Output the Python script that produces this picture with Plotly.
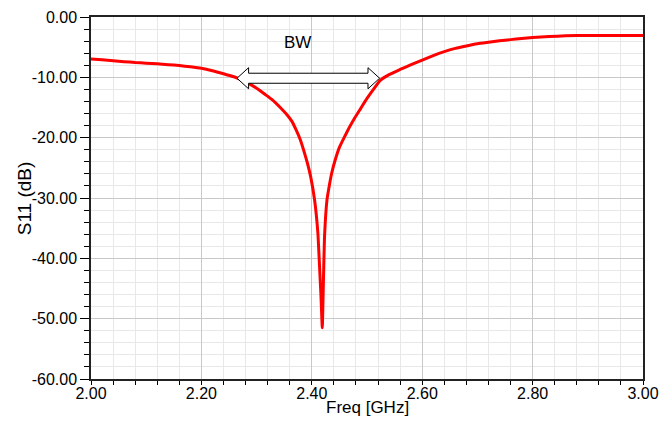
import plotly.graph_objects as go

freq_ghz = [2.00, 2.02, 2.04, 2.06, 2.08, 2.10, 2.12, 2.14, 2.16, 2.18,
            2.20, 2.22, 2.24, 2.26, 2.28, 2.30, 2.315, 2.328, 2.345, 2.355,
            2.364, 2.372, 2.379, 2.385, 2.392, 2.398, 2.405, 2.411, 2.414, 2.4165,
            2.419, 2.421, 2.423, 2.4275, 2.432, 2.436, 2.443, 2.450, 2.459, 2.468,
            2.478, 2.489, 2.50, 2.512, 2.524, 2.54, 2.56, 2.58, 2.60, 2.62,
            2.64, 2.66, 2.68, 2.70, 2.72, 2.74, 2.76, 2.78, 2.80, 2.83,
            2.86, 2.90, 2.95, 3.00]
s11_db = [-6.95, -7.1, -7.25, -7.4, -7.55, -7.65, -7.75, -7.9, -8.05, -8.25,
          -8.5, -8.9, -9.4, -9.95, -10.7, -11.8, -12.8, -13.7, -15.2, -16.2,
          -17.3, -18.8, -20.3, -22.0, -24.2, -26.5, -30.3, -35.8, -41.3, -46.0,
          -51.5, -44.0, -36.5, -30.3, -27.8, -25.9, -23.5, -21.6, -19.9, -18.3,
          -16.7, -15.1, -13.5, -11.95, -10.5, -9.55, -8.7, -7.9, -7.15, -6.4,
          -5.75, -5.2, -4.8, -4.45, -4.2, -3.95, -3.75, -3.55, -3.4, -3.25,
          -3.1, -3.05, -3.05, -3.05]

x_tick_vals = [2.0, 2.2, 2.4, 2.6, 2.8, 3.0]
x_tick_text = ["2.00", "2.20", "2.40", "2.60", "2.80", "3.00"]
y_tick_vals = [0, -10, -20, -30, -40, -50, -60]
y_tick_text = ["0.00", "-10.00", "-20.00", "-30.00", "-40.00", "-50.00", "-60.00"]

bw_low, bw_high, bw_level = 2.2645, 2.5228, -10.15

fig = go.Figure()
fig.add_trace(go.Scatter(x=freq_ghz, y=s11_db, mode="lines",
                         line=dict(color="#ff0000", width=3, shape="spline", smoothing=0.4),
                         showlegend=False))

hh, sh, hl = 1.75, 0.83, 0.021
x0, x1, yc = bw_low, bw_high, bw_level
path = (f"M {x0},{yc} L {x0+hl},{yc+hh} L {x0+hl},{yc+sh} L {x1-hl},{yc+sh} "
        f"L {x1-hl},{yc+hh} L {x1},{yc} L {x1-hl},{yc-hh} L {x1-hl},{yc-sh} "
        f"L {x0+hl},{yc-sh} L {x0+hl},{yc-hh} Z")
fig.add_shape(type="path", path=path, xref="x", yref="y", layer="above",
              fillcolor="white", line=dict(color="black", width=1))

font_main = "Liberation Sans, Arial, sans-serif"

fig.add_annotation(x=2.374, y=-4.26, xref="x", yref="y", text="BW", showarrow=False,
                   font=dict(family=font_main, size=17, color="black"))
fig.add_annotation(x=0.5, y=0, xref="paper", yref="paper", text="Freq [GHz]",
                   showarrow=False, yanchor="middle", yshift=-28,
                   font=dict(family=font_main, size=17, color="black"))
fig.add_annotation(x=-0.121, y=0.5, xref="paper", yref="paper", text="S11 (dB)",
                   showarrow=False, textangle=-90, xanchor="center",
                   font=dict(family=font_main, size=19, color="black"))

fig.update_xaxes(range=[2.0, 3.0], tickmode="array", tickvals=x_tick_vals,
                 ticktext=x_tick_text, ticks="outside", ticklen=4, tickcolor="black",
                 ticklabelstandoff=-5,
                 showline=True, linecolor="#222", linewidth=1.5, mirror=True,
                 showgrid=True, gridcolor="#c8c8c8", gridwidth=1, zeroline=False,
                 tickfont=dict(family=font_main, size=16, color="black"),
                 minor=dict(dtick=0.04, tick0=2.0, showgrid=True, gridcolor="#e8e8e8",
                            gridwidth=1, ticks="outside", ticklen=4, tickcolor="black"))
fig.update_yaxes(range=[-60, 0], tickmode="array", tickvals=y_tick_vals,
                 ticktext=y_tick_text, ticks="outside", ticklen=9, tickcolor="black",
                 showline=True, linecolor="#222", linewidth=1.5, mirror=True,
                 showgrid=True, gridcolor="#c8c8c8", gridwidth=1, zeroline=False,
                 tickfont=dict(family=font_main, size=16, color="black"),
                 minor=dict(dtick=2, tick0=0, showgrid=True, gridcolor="#e8e8e8",
                            gridwidth=1, ticks="outside", ticklen=5, tickcolor="black"))

fig.update_layout(width=664, height=413, paper_bgcolor="white", plot_bgcolor="white",
                  margin=dict(l=83, r=29, t=9, b=42, autoexpand=False),
                  font=dict(family=font_main, size=16, color="black"))

fig.write_html("out.html")
